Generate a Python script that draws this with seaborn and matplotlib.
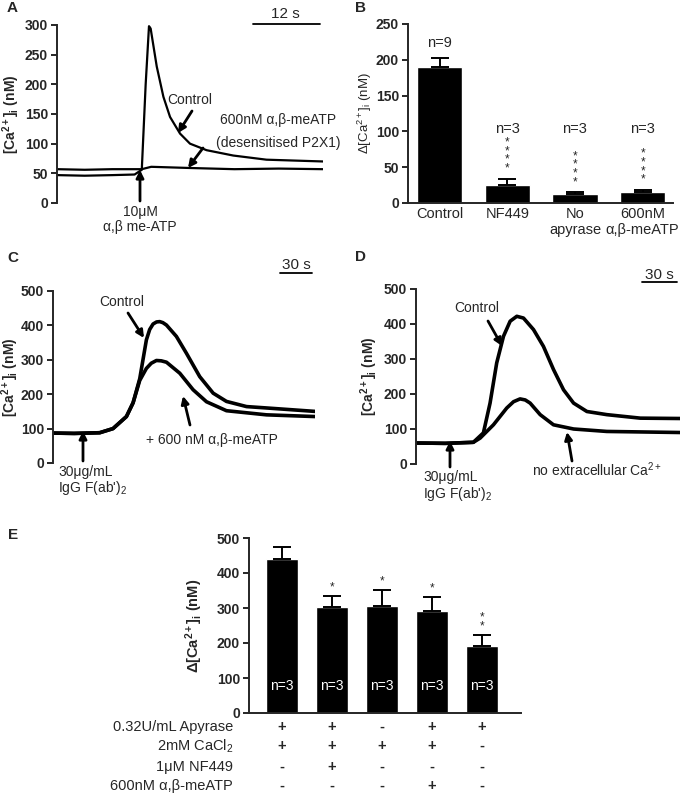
import matplotlib
matplotlib.use("Agg")
import matplotlib.pyplot as plt
import seaborn as sns
import pandas as pd
import numpy as np
from matplotlib.lines import Line2D
from matplotlib.patches import FancyArrowPatch

# ---------------- data ----------------
# Panel A (time s, [Ca2+]i nM)
a_ctrl_t = [0, 5, 10, 14, 15.3, 16.0, 16.6, 16.9, 18.0, 19.2, 20.4, 22.2, 24.0, 27.0, 31.8, 37.8, 48]
a_ctrl_v = [47, 46, 47, 48, 56, 200, 298, 294, 230, 179, 145, 117, 100, 89, 80, 73, 70]
a_des_t = [0, 5, 10, 14, 15.3, 17, 24, 32, 40, 48]
a_des_v = [57, 56, 57, 57, 57, 61, 59, 57, 58, 57]

# Panel B
b_cats = ["Control", "NF449", "No\napyrase", "600nM\nα,β-meATP"]
b_vals = [190, 25, 13, 16]
b_errs = [13, 9, 2, 2]
b_n = ["n=9", "n=3", "n=3", "n=3"]
b_stars = [0, 4, 4, 4]

# Panel C
c_t = [0, 20, 44.2, 56.8, 69.5, 75.8, 82.1, 88.4, 91.5, 94.7, 98, 101, 104, 107.4, 116.8, 126.3, 138.9, 151.6, 164.2, 183.2, 202.1, 248]
c_ctrl = [87, 86, 88, 100, 135, 175, 245, 358, 388, 404, 410, 411, 408, 401, 368, 319, 251, 203, 179, 164, 160, 150]
c_trt_t = [0, 20, 44.2, 56.8, 69.5, 75.8, 82.1, 88.4, 93, 97.9, 102.5, 107.4, 120, 132.6, 145.3, 164.2, 202.1, 248]
c_trt = [87, 86, 88, 100, 135, 175, 240, 275, 290, 298, 297, 293, 261, 213, 178, 152, 140, 135]

# Panel D
d_ctrl_t = [0, 25, 49.1, 57.7, 63.4, 69.1, 74.9, 80.6, 86.3, 92, 100.6, 109.1, 117.7, 126.3, 134.9, 146.3, 163.4, 192, 226]
d_ctrl = [60, 59, 62, 89, 174, 289, 365, 408, 422, 417, 384, 336, 270, 212, 174, 150, 141, 131, 130]
d_noca_t = [0, 25, 49.1, 54.9, 66.3, 77.7, 83.5, 89.1, 93.5, 97.7, 106.3, 117.7, 134.9, 163.4, 226]
d_noca = [60, 59, 62, 74, 112, 160, 178, 186, 183, 174, 141, 112, 100, 93, 90]

# Panel E
e_cond = ["c1", "c2", "c3", "c4", "c5"]
e_vals = [440, 302, 306, 291, 192]
e_errs = [35, 33, 45, 40, 31]
e_stars = [0, 1, 1, 1, 2]
e_rows = ["0.32U/mL Apyrase", "2mM CaCl$_2$", "1μM NF449", "600nM α,β-meATP"]
e_table = [["+", "+", "-", "+", "+"],
           ["+", "+", "+", "+", "-"],
           ["-", "+", "-", "-", "-"],
           ["-", "-", "-", "+", "-"]]

# ---------------- style ----------------
sns.set_style("ticks")
plt.rcParams["font.family"] = ["Liberation Sans", "DejaVu Sans"]
plt.rcParams["mathtext.fontset"] = "custom"
plt.rcParams["mathtext.rm"] = "Liberation Sans"
plt.rcParams["mathtext.it"] = "Liberation Sans:italic"
plt.rcParams["mathtext.bf"] = "Liberation Sans:bold"
plt.rcParams["mathtext.default"] = "regular"
plt.rcParams["axes.linewidth"] = 1.4

W, H = 682, 800
fig = plt.figure(figsize=(W / 100, H / 100), dpi=100)


def P(x, y):
    return (x / W, 1 - y / H)


def rect(l, t, r, b):
    return [l / W, 1 - b / H, (r - l) / W, (b - t) / H]


def arrow(x0, y0, x1, y1):
    fig.add_artist(FancyArrowPatch(P(x0, y0), P(x1, y1), transform=fig.transFigure,
                                   arrowstyle="-|>", mutation_scale=11, lw=2.0,
                                   color="k", shrinkA=0, shrinkB=0))


def ftext(x, y, s, ha="center", **kw):
    fig.text(*P(x, y), s, ha=ha, va="center", fontsize=kw.pop("fontsize", 10), **kw)


def scalebar(x0, x1, y):
    fig.add_artist(Line2D([x0 / W, x1 / W], [1 - y / H, 1 - y / H], color="k", lw=1.3,
                          transform=fig.transFigure))


def style_axes(ax, ymax, step, bottom=False):
    ax.set_ylim(0, ymax)
    ax.set_yticks(np.arange(0, ymax + 1, step))
    for lab in ax.get_yticklabels():
        lab.set_fontweight("bold")
        lab.set_fontsize(10)
    ax.tick_params(axis="y", length=4.5, width=1.4, pad=2)
    ax.spines["top"].set_visible(False)
    ax.spines["right"].set_visible(False)
    if not bottom:
        ax.spines["bottom"].set_visible(False)
        ax.set_xticks([])
    ax.set_xlabel("")


ca_label = "[Ca$^{2+}$]$_i$ (nM)"
dca_label = "Δ[Ca$^{2+}$]$_i$ (nM)"

# ---------------- Panel A ----------------
axA = fig.add_axes(rect(57, 25, 323, 203))
sns.lineplot(x=a_des_t, y=a_des_v, color="k", lw=1.6, ax=axA)
sns.lineplot(x=a_ctrl_t, y=a_ctrl_v, color="k", lw=1.6, ax=axA)
axA.set_xlim(0, 48)
style_axes(axA, 300, 50)
axA.set_ylabel(ca_label, fontsize=10, fontweight="bold")
axA.yaxis.set_label_coords(-0.133, 0.5)
ftext(12, 8, "A", fontsize=11, fontweight="bold")
scalebar(253, 320, 24)
ftext(285, 14, "12 s", fontsize=11)
ftext(190, 100, "Control")
arrow(192, 111, 178, 133)
ftext(278, 120, "600nM α,β-meATP")
ftext(278, 143, "(desensitised P2X1)")
arrow(203, 148, 188, 168)
ftext(140, 212, "10μM")
ftext(140, 227, "α,β me-ATP")
arrow(140, 201, 140, 170)

# ---------------- Panel B ----------------
axB = fig.add_axes(rect(408, 24, 673, 203))
dfB = pd.DataFrame({"cond": b_cats, "val": b_vals})
sns.barplot(data=dfB, x="cond", y="val", color="black", saturation=1, width=0.67,
            errorbar=None, ax=axB)
axB.errorbar(range(len(b_vals)), b_vals, yerr=[np.zeros(len(b_errs)), b_errs], fmt="none",
             ecolor="k", elinewidth=1.4, capsize=6.5, capthick=1.4)
axB.set_xlim(-0.47, 3.45)
style_axes(axB, 250, 50, bottom=True)
axB.tick_params(axis="x", length=0, labelsize=10.5, pad=3)
axB.set_ylabel(dca_label, fontsize=9.5)
axB.yaxis.set_label_coords(-0.128, 0.5)
for i, (v, e) in enumerate(zip(b_vals, b_errs)):
    ny = 223 if i == 0 else 104
    axB.text(i, ny, b_n[i], ha="center", va="center", fontsize=10.5)
    if b_stars[i]:
        axB.text(i, v + e + 6, "\n".join(["*"] * b_stars[i]), ha="center", va="bottom",
                 fontsize=8.5, linespacing=0.63)
ftext(360, 8, "B", fontsize=11, fontweight="bold")

# ---------------- Panel C ----------------
axC = fig.add_axes(rect(53, 291, 315, 463))
sns.lineplot(x=c_trt_t, y=c_trt, color="k", lw=2.6, ax=axC)
sns.lineplot(x=c_t, y=c_ctrl, color="k", lw=2.6, ax=axC)
axC.set_xlim(0, 248)
style_axes(axC, 500, 100)
axC.set_ylabel(ca_label, fontsize=10, fontweight="bold")
axC.yaxis.set_label_coords(-0.122, 0.5)
ftext(13, 258, "C", fontsize=11, fontweight="bold")
scalebar(280, 312, 273)
ftext(296, 265, "30 s", fontsize=11)
ftext(122, 302, "Control")
arrow(128, 313, 144, 338)
ftext(212, 440, "+ 600 nM α,β-meATP")
arrow(190, 425, 183, 396)
ftext(58, 472, "30μg/mL", ha="left")
ftext(58, 488, "IgG F(ab')$_2$", ha="left")
arrow(83, 461, 83, 431)

# ---------------- Panel D ----------------
axD = fig.add_axes(rect(416, 289, 680, 464))
sns.lineplot(x=d_noca_t, y=d_noca, color="k", lw=2.6, ax=axD)
sns.lineplot(x=d_ctrl_t, y=d_ctrl, color="k", lw=2.6, ax=axD)
axD.set_xlim(0, 226)
style_axes(axD, 500, 100)
axD.set_ylabel(ca_label, fontsize=10, fontweight="bold")
axD.yaxis.set_label_coords(-0.136, 0.5)
ftext(360, 257, "D", fontsize=11, fontweight="bold")
scalebar(642, 677, 282)
ftext(659, 275, "30 s", fontsize=11)
ftext(477, 308, "Control")
arrow(488, 321, 502, 346)
ftext(597, 470, "no extracellular Ca$^{2+}$")
arrow(572, 461, 567, 432)
ftext(423, 477, "30μg/mL", ha="left")
ftext(423, 494, "IgG F(ab')$_2$", ha="left")
arrow(450, 467, 450, 441)

# ---------------- Panel E ----------------
axE = fig.add_axes(rect(249, 538, 521, 713))
dfE = pd.DataFrame({"cond": e_cond, "val": e_vals})
sns.barplot(data=dfE, x="cond", y="val", color="black", saturation=1, width=0.64,
            errorbar=None, ax=axE)
axE.errorbar(range(len(e_vals)), e_vals, yerr=[np.zeros(len(e_errs)), e_errs], fmt="none",
             ecolor="k", elinewidth=1.4, capsize=6.5, capthick=1.4)
axE.set_xlim(-0.66, 4.78)
style_axes(axE, 500, 100, bottom=True)
axE.set_xticks([])
axE.set_ylabel(dca_label, fontsize=10.5, fontweight="bold")
axE.yaxis.set_label_coords(-0.16, 0.5)
for i, (v, e) in enumerate(zip(e_vals, e_errs)):
    axE.text(i, 78, "n=3", ha="center", va="center", color="white", fontsize=10)
    if e_stars[i]:
        axE.text(i, v + e + 8, "\n".join(["*"] * e_stars[i]), ha="center", va="bottom",
                 fontsize=8.5, linespacing=0.65)
trans = axE.get_xaxis_transform()
row_y = [727, 746, 767, 786]
for r, (lab, yy) in enumerate(zip(e_rows, row_y)):
    ftext(233, yy, lab, ha="right", fontsize=10.5)
    ya = -(yy - 713) / 175
    for i, s in enumerate(e_table[r]):
        axE.text(i, ya, s, transform=trans, ha="center", va="center", fontsize=10.5,
                 fontweight="bold")
ftext(13, 535, "E", fontsize=11, fontweight="bold")

fig.savefig("out.png", dpi=100)
